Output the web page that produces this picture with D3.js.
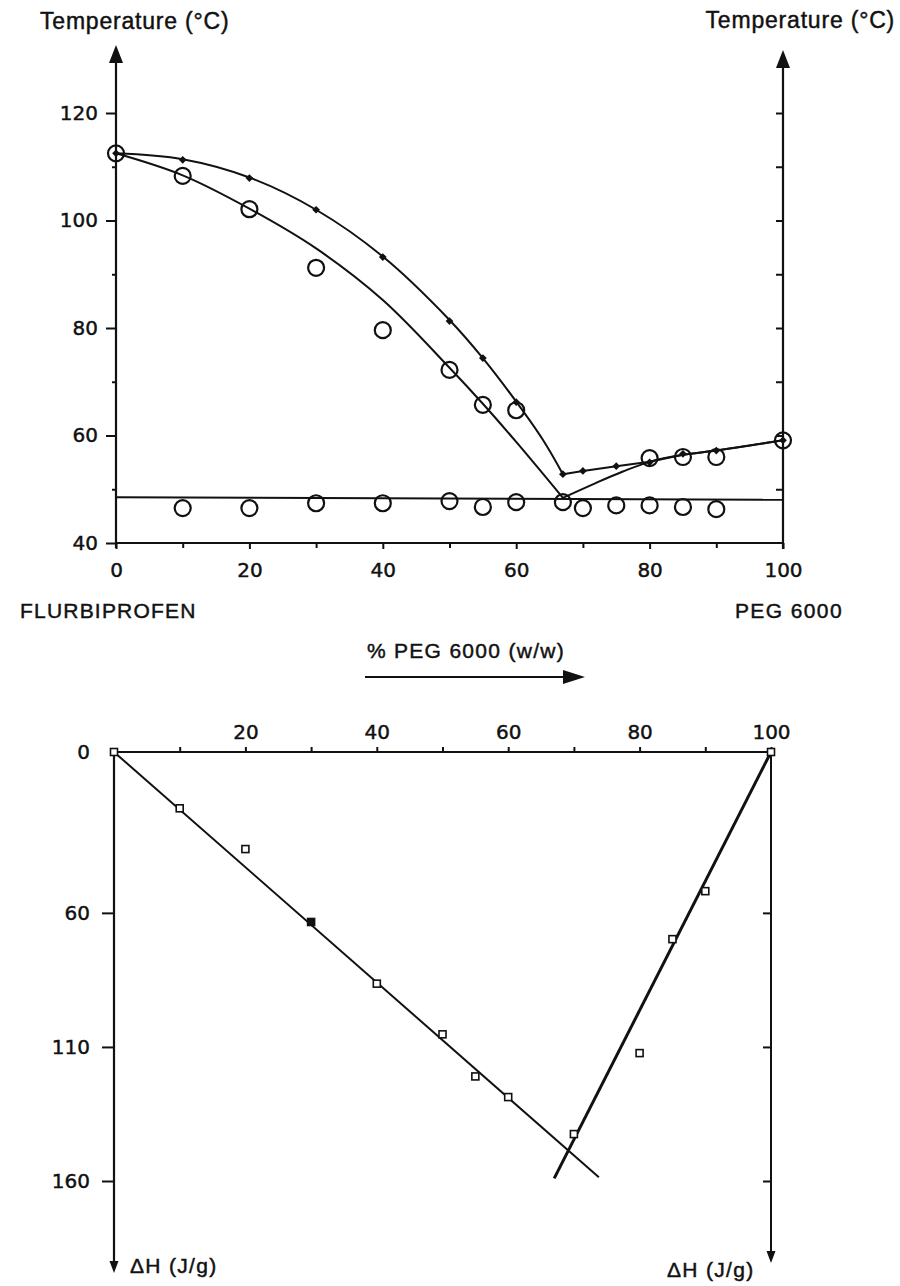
<!DOCTYPE html>
<html>
<head>
<meta charset="utf-8">
<script src="https://cdn.jsdelivr.net/npm/d3@7"></script>
<style>
  html, body { margin: 0; padding: 0; background: #fff; }
  svg { display: block; }
  text { stroke: #111; stroke-width: 0.45px; }
</style>
</head>
<body>
<svg id="chart" width="900" height="1286"></svg>
<script>
// ---------------- DATA ----------------
// Top panel: phase diagram (Temperature °C vs % PEG 6000 w/w)
const filledPeg   = [0, 10, 20, 30, 40, 50, 55, 60, 67, 70, 75, 80, 85, 90, 100];
const filledTemp  = [112.5, 111.3, 107.9, 102.0, 93.2, 81.3, 74.4, 66.2, 52.8, 53.4, 54.3, 55.0, 56.6, 57.2, 59.1];

const openPeg     = [0, 10, 20, 30, 40, 50, 55, 60, 67, 80, 85, 90, 100];
const openTemp    = [112.5, 108.3, 102.1, 91.2, 79.6, 72.2, 65.7, 64.7, 47.6, 55.8, 56.0, 56.0, 59.1];

const eutPeg      = [10, 20, 30, 40, 50, 55, 60, 70, 75, 80, 85, 90];
const eutTemp     = [46.5, 46.5, 47.4, 47.4, 47.8, 46.7, 47.6, 46.5, 47.0, 47.0, 46.7, 46.3];

// fitted curves drawn through the data
const upperFitPeg  = [0, 10, 20, 30, 40, 50, 55, 60, 64, 67];
const upperFitTemp = [112.5, 111.4, 108.0, 102.0, 93.3, 81.5, 74.4, 66.3, 59.2, 52.8];
const upperRightPeg  = [67, 70, 75, 80, 85, 90, 100];
const upperRightTemp = [52.8, 53.4, 54.3, 55.1, 56.4, 57.2, 59.1];
const lowerFitPeg  = [0, 10, 20, 30, 40, 50, 55, 60, 67];
const lowerFitTemp = [112.5, 108.4, 102.2, 94.8, 85.2, 72.6, 65.9, 58.8, 48.4];
const lowerRightPeg  = [67, 72, 76, 80, 85, 90, 100];
const lowerRightTemp = [48.4, 51.2, 53.3, 55.1, 56.4, 57.2, 59.1];
const eutecticLine = 48.5;

const tempTicks = [40, 60, 80, 100, 120];
const tempMinor = [50, 70, 90, 110];
const pegTicks  = [0, 20, 40, 60, 80, 100];
const pegMinor  = [10, 30, 50, 70, 90];

// Bottom panel: enthalpy ΔH (J/g) vs % PEG 6000
const dhPeg   = [0, 10, 20, 30, 40, 50, 55, 60, 70, 80, 85, 90, 100];
const dhValue = [0, 21.0, 36.2, 63.4, 86.4, 105.3, 121.0, 128.7, 142.5, 112.3, 69.8, 51.9, 0];
const dhFilled = [false, false, false, true, false, false, false, false, false, false, false, false, false];
const dhLine1Peg = [0, 73.8], dhLine1Val = [0, 158.6];
const dhLine2Peg = [100, 67], dhLine2Val = [0, 159];
const dhTicks = [0, 60, 110, 160];
const dhTopTicks = [20, 40, 60, 80, 100];
const dhTopMinor = [10, 30, 50, 70, 90];

// ---------------- DRAWING ----------------
const svg = d3.select("#chart");
const numFont = "'DejaVu Sans', sans-serif";
const txtFont = "'Liberation Sans', Arial, sans-serif";
const ink = "#111";

// Top scales
const xT = d3.scaleLinear().domain([0, 100]).range([116, 783]);
const yT = d3.scaleLinear().domain([40, 120]).range([543, 113]);

// Bottom scales
const xB = d3.scaleLinear().domain([0, 100]).range([114, 771]);
const yB = d3.scaleLinear().domain([0, 160]).range([752, 1181]);

function styleAxis(g, fs) {
  g.select(".domain").remove();
  g.selectAll("line").attr("stroke", ink).attr("stroke-width", 2);
  g.selectAll("text").attr("font-family", numFont).attr("font-size", fs).attr("fill", ink);
}
const zip = (a, b) => a.map((v, i) => [v, b[i]]);

// ---- Top panel axes ----
const gTop = svg.append("g");
gTop.append("g").attr("transform", `translate(${xT(0)},0)`)
  .call(d3.axisLeft(yT).tickValues(tempTicks).tickSize(10).tickPadding(8).tickFormat(d3.format("d")))
  .call(g => styleAxis(g, 20));
gTop.append("g").attr("transform", `translate(${xT(0)},0)`)
  .call(d3.axisLeft(yT).tickValues(tempMinor).tickSize(4).tickFormat(""))
  .call(g => styleAxis(g, 20));
// right axis ticks (inward)
gTop.append("g").attr("transform", `translate(${xT(100)},0)`)
  .call(d3.axisLeft(yT).tickValues(d3.range(50, 121, 10)).tickSize(7).tickFormat(""))
  .call(g => styleAxis(g, 20));
// bottom axis
gTop.append("g").attr("transform", `translate(0,${yT(40)})`)
  .call(d3.axisBottom(xT).tickValues(pegTicks).tickSize(6).tickPadding(14).tickFormat(d3.format("d")))
  .call(g => styleAxis(g, 20));
gTop.append("g").attr("transform", `translate(0,${yT(40)})`)
  .call(d3.axisBottom(xT).tickValues(pegMinor).tickSize(5).tickFormat(""))
  .call(g => styleAxis(g, 20));

// axis lines with arrows
gTop.append("line").attr("x1", xT(0)).attr("x2", xT(100)).attr("y1", yT(40)).attr("y2", yT(40))
  .attr("stroke", ink).attr("stroke-width", 2.2);
gTop.append("line").attr("x1", xT(0)).attr("x2", xT(0)).attr("y1", yT(40) + 5).attr("y2", 58)
  .attr("stroke", ink).attr("stroke-width", 2.2);
gTop.append("line").attr("x1", xT(100)).attr("x2", xT(100)).attr("y1", yT(40) + 6).attr("y2", 63)
  .attr("stroke", ink).attr("stroke-width", 2.2);
function arrowUp(g, x, tipY, w, h) {
  g.append("path").attr("d", `M${x},${tipY} L${x - w},${tipY + h} L${x + w},${tipY + h} Z`).attr("fill", ink);
}
function arrowDown(g, x, tipY, w, h) {
  g.append("path").attr("d", `M${x},${tipY} L${x - w},${tipY - h} L${x + w},${tipY - h} Z`).attr("fill", ink);
}
arrowUp(gTop, xT(0), 45, 7, 18);
arrowUp(gTop, xT(100), 50, 7, 18);

// Axis titles
gTop.append("text").attr("x", 40).attr("y", 29).text("Temperature (°C)")
  .attr("font-family", txtFont).attr("font-size", 23).attr("letter-spacing", 0.8).attr("fill", ink);
gTop.append("text").attr("x", 895).attr("y", 28).attr("text-anchor", "end").text("Temperature (°C)")
  .attr("font-family", txtFont).attr("font-size", 23).attr("letter-spacing", 0.8).attr("fill", ink);

// curves
const smooth = d3.line().x(d => xT(d[0])).y(d => yT(d[1])).curve(d3.curveCatmullRom.alpha(0.5));
const lin  = d3.line().x(d => xT(d[0])).y(d => yT(d[1])).curve(d3.curveLinear);
gTop.append("path").datum(zip(upperFitPeg, upperFitTemp))
  .attr("d", smooth).attr("fill", "none").attr("stroke", ink).attr("stroke-width", 2);
gTop.append("path").datum(zip(upperRightPeg, upperRightTemp))
  .attr("d", lin).attr("fill", "none").attr("stroke", ink).attr("stroke-width", 2);
gTop.append("path").datum(zip(lowerFitPeg, lowerFitTemp))
  .attr("d", smooth).attr("fill", "none").attr("stroke", ink).attr("stroke-width", 2);
gTop.append("path").datum(zip(lowerRightPeg, lowerRightTemp))
  .attr("d", smooth).attr("fill", "none").attr("stroke", ink).attr("stroke-width", 2);
gTop.append("line").attr("x1", xT(0)).attr("x2", xT(100)).attr("y1", yT(eutecticLine)).attr("y2", yT(eutecticLine) + 2.5)
  .attr("stroke", ink).attr("stroke-width", 2);

// open circles
gTop.selectAll("circle.open").data(zip(openPeg, openTemp).concat(zip(eutPeg, eutTemp))).join("circle")
  .attr("class", "open").attr("cx", d => xT(d[0])).attr("cy", d => yT(d[1])).attr("r", 8)
  .attr("fill", "none").attr("stroke", ink).attr("stroke-width", 2.2);
// filled diamonds (rotated squares)
gTop.selectAll("path.filled").data(zip(filledPeg, filledTemp)).join("path")
  .attr("class", "filled")
  .attr("d", d3.symbol().type(d3.symbolSquare).size(30))
  .attr("transform", d => `translate(${xT(d[0])},${yT(d[1])}) rotate(45)`)
  .attr("fill", ink);

// ---- middle labels ----
svg.append("text").attr("x", 20).attr("y", 618).text("FLURBIPROFEN")
  .attr("font-family", txtFont).attr("font-size", 21).attr("letter-spacing", 1.2).attr("fill", ink);
svg.append("text").attr("x", 843).attr("y", 618).attr("text-anchor", "end").text("PEG 6000")
  .attr("font-family", txtFont).attr("font-size", 21).attr("letter-spacing", 1.4).attr("fill", ink);
svg.append("text").attr("x", 466).attr("y", 658).attr("text-anchor", "middle").text("% PEG 6000 (w/w)")
  .attr("font-family", txtFont).attr("font-size", 21).attr("letter-spacing", 1.3).attr("fill", ink);
svg.append("line").attr("x1", 365).attr("x2", 568).attr("y1", 677).attr("y2", 677).attr("stroke", ink).attr("stroke-width", 2.2);
svg.append("path").attr("d", "M585,677 L563,670 L563,684 Z").attr("fill", ink);

// ---- Bottom panel ----
const gBot = svg.append("g");
gBot.append("g").attr("transform", `translate(0,${yB(0)})`)
  .call(d3.axisTop(xB).tickValues(dhTopTicks).tickSize(5).tickPadding(8).tickFormat(d3.format("d")))
  .call(g => styleAxis(g, 20));
gBot.append("g").attr("transform", `translate(0,${yB(0)})`)
  .call(d3.axisTop(xB).tickValues(dhTopMinor).tickSize(5).tickFormat(""))
  .call(g => styleAxis(g, 20));
gBot.append("g").attr("transform", `translate(${xB(0)},0)`)
  .call(d3.axisLeft(yB).tickValues(dhTicks).tickSize(12).tickPadding(12).tickFormat(d3.format("d")))
  .call(g => styleAxis(g, 20))
  .call(g => g.selectAll(".tick").filter(d => d === 0).select("line").remove());
gBot.append("g").attr("transform", `translate(${xB(100)},0)`)
  .call(d3.axisLeft(yB).tickValues(dhTicks.slice(1)).tickSize(8).tickFormat(""))
  .call(g => styleAxis(g, 20));

gBot.append("line").attr("x1", xB(0)).attr("x2", xB(100)).attr("y1", yB(0)).attr("y2", yB(0))
  .attr("stroke", ink).attr("stroke-width", 2.2);
gBot.append("line").attr("x1", xB(0)).attr("x2", xB(0)).attr("y1", yB(0)).attr("y2", 1262)
  .attr("stroke", ink).attr("stroke-width", 2.2);
gBot.append("line").attr("x1", xB(100)).attr("x2", xB(100)).attr("y1", yB(0)).attr("y2", 1252)
  .attr("stroke", ink).attr("stroke-width", 2);
arrowDown(gBot, xB(0), 1273, 4.5, 12);
arrowDown(gBot, xB(100), 1263, 4.5, 12);

gBot.append("text").attr("x", 130).attr("y", 1273).text("ΔH (J/g)")
  .attr("font-family", txtFont).attr("font-size", 21).attr("letter-spacing", 1.3).attr("fill", ink);
gBot.append("text").attr("x", 667).attr("y", 1277).text("ΔH (J/g)")
  .attr("font-family", txtFont).attr("font-size", 21).attr("letter-spacing", 1.3).attr("fill", ink);

const lineB = d3.line().x(d => xB(d[0])).y(d => yB(d[1]));
gBot.append("path").datum(zip(dhLine1Peg, dhLine1Val)).attr("d", lineB)
  .attr("fill", "none").attr("stroke", ink).attr("stroke-width", 2);
gBot.append("path").datum(zip(dhLine2Peg, dhLine2Val)).attr("d", lineB)
  .attr("fill", "none").attr("stroke", ink).attr("stroke-width", 3);

gBot.selectAll("rect.sq").data(dhPeg.map((p, i) => ({p, v: dhValue[i], f: dhFilled[i]}))).join("rect")
  .attr("class", "sq")
  .attr("x", d => xB(d.p) - 3.5).attr("y", d => yB(d.v) - 3.5)
  .attr("width", 7).attr("height", 7)
  .attr("fill", d => d.f ? ink : "#fff").attr("stroke", ink).attr("stroke-width", 1.6);
</script>
</body>
</html>
